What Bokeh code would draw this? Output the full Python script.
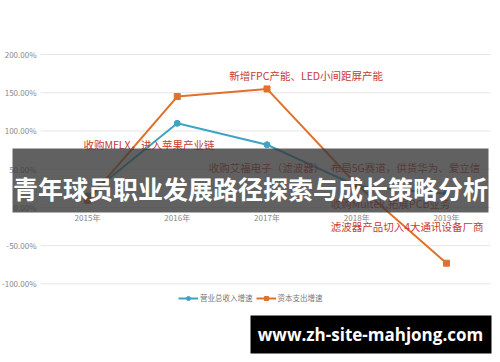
from bokeh.plotting import figure
from bokeh.models import Range1d, Legend, LegendItem, ColumnDataSource
from bokeh.core.properties import value
from bokeh.embed import file_html
from bokeh.resources import INLINE

# ---- data ----
categories = ["2015年", "2016年", "2017年", "2018年", "2019年"]
revenue_growth = [15, 110, 82, 28, 18]       # 营业总收入增速 (%)
capex_growth = [9, 145, 155, 30, -73]        # 资本支出增速 (%)
y_ticks = [-100, -50, 0, 50, 100, 150, 200]
y_tick_labels = ["%.2f%%" % t for t in y_ticks]
series_names = ["营业总收入增速", "资本支出增速"]

notes = ["新增FPC产能、LED小间距屏产能", "收购MFLX，进入苹果产业链", "收购艾福电子（滤波器）",
         "布局5G赛道，供货华为、爱立信", "收购Multek,拓展PCB业务", "滤波器产品切入4大通讯设备厂商"]
note_x = [1.58, -0.045, 1.35, 2.71, 2.71, 2.71]
note_y = [172.6, 82.3, 52.2, 52.2, 5.1, -25.0]

title_text = "青年球员职业发展路径探索与成长策略分析"
watermark_text = "www.zh-site-mahjong.com"

FONT = "Noto Sans CJK SC"
BLUE = "#3fa3c4"
ORANGE = "#e0712a"
W, H = 500, 362

# plotting area layout (pixels) -> data ranges
X_FIRST_PX, X_STEP_PX = 87.0, 89.75          # category 0 position and spacing
Y_ZERO_PX, Y_PER_PX = 206.9, 1.3084          # 0% position and % per pixel
x_start = -X_FIRST_PX / X_STEP_PX
x_end = (W - X_FIRST_PX) / X_STEP_PX
y_end = Y_ZERO_PX * Y_PER_PX
y_start = -(H - Y_ZERO_PX) * Y_PER_PX


def dx(px):
    return (px - X_FIRST_PX) / X_STEP_PX


def dy(py):
    return (Y_ZERO_PX - py) * Y_PER_PX


xs = list(range(len(categories)))

p = figure(width=W, height=H, output_backend="svg", toolbar_location=None,
           x_range=Range1d(x_start, x_end), y_range=Range1d(y_start, y_end),
           min_border=0, x_axis_type=None, y_axis_type=None)
p.outline_line_color = None
p.background_fill_color = "white"
p.border_fill_color = "white"
p.xgrid.visible = False
p.ygrid.visible = False

grid_left, grid_right = dx(40), dx(490)

# grid lines
p.segment(x0=[grid_left] * len(y_ticks), x1=[grid_right] * len(y_ticks), y0=y_ticks, y1=y_ticks,
          line_color="#e6e6e6", line_width=1)

# y tick labels
p.text(x=[grid_left] * len(y_ticks), y=y_ticks, text=y_tick_labels, x_offset=-4,
       text_font=value(FONT), text_font_size="8px", text_color="#888888",
       text_align="right", text_baseline="middle")

# x category labels at 0 line
p.text(x=xs, y=[0] * len(xs), text=categories, y_offset=5,
       text_font=value(FONT), text_font_size="8px", text_color="#888888",
       text_align="center", text_baseline="top")

src = ColumnDataSource(dict(x=xs, rev=revenue_growth, cap=capex_growth))
l1 = p.line("x", "rev", source=src, line_color=BLUE, line_width=2)
m1 = p.scatter("x", "rev", source=src, marker="circle", size=6, fill_color=BLUE, line_color=BLUE)
l2 = p.line("x", "cap", source=src, line_color=ORANGE, line_width=2)
m2 = p.scatter("x", "cap", source=src, marker="square", size=6, fill_color=ORANGE, line_color=ORANGE)

# annotations
nsrc = ColumnDataSource(dict(x=note_x, y=note_y, t=notes))
p.text("x", "y", text="t", source=nsrc, text_font=value(FONT), text_font_size="10.5px",
       text_color="#c93a32", text_align="left", text_baseline="middle")

legend = Legend(items=[LegendItem(label=series_names[0], renderers=[l1, m1]),
                       LegendItem(label=series_names[1], renderers=[l2, m2])],
                location=(178, 59), orientation="horizontal",
                background_fill_alpha=0, border_line_color=None,
                label_text_font=FONT, label_text_font_size="7.5px", label_text_color="#777777",
                glyph_width=20, glyph_height=10, label_standoff=2, spacing=3,
                padding=0, margin=0, label_height=10)
p.add_layout(legend)

# overlay title band
p.quad(left=[dx(12)], right=[dx(488)], top=[dy(148)], bottom=[dy(212)],
       fill_color="#3a3a3a", fill_alpha=0.8, line_color=None)
p.text(x=[dx(250)], y=[dy(187)], text=[title_text], text_font=value(FONT),
       text_font_size="25px", text_font_style="bold", text_color="white",
       text_align="center", text_baseline="middle")

# watermark
p.quad(left=[dx(250)], right=[dx(491)], top=[dy(315)], bottom=[dy(353)],
       fill_color="black", line_color=None)
p.text(x=[dx(370)], y=[dy(334)], text=[watermark_text], text_font=value("Open Sans"),
       text_font_size="17px", text_font_style="bold", text_color="white",
       text_align="center", text_baseline="middle")

open("out.html", "w").write(file_html(p, INLINE))
